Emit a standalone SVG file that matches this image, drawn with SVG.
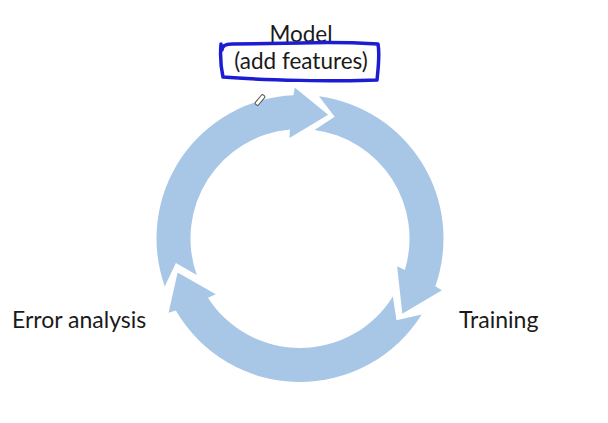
<svg xmlns="http://www.w3.org/2000/svg" width="608" height="423" viewBox="0 0 608 423">
  <style>
    .seg { fill: #a8c7e7; stroke: none; }
    .lbl { font-family: Lato, "Liberation Sans", sans-serif; font-size: 22.5px; fill: #1a1a1a; }
    .hand { fill: none; stroke: #1c1cd0; stroke-width: 3.5; stroke-linejoin: round; stroke-linecap: round; }
  </style>
  <rect width="608" height="423" fill="#ffffff"/>
  <g id="connectors">
    <path id="arrow-error-to-model" class="seg" d="M164.73,286.40 A143.5,143.5 0 0 1 293.49,95.15 L294.73,87.59 L328.14,114.66 L289.44,138.05 L289.89,129.47 A109.5,109.5 0 0 0 196.78,275.05 L175.91,263.07 Z"/>
    <path id="arrow-model-to-training" class="seg" d="M318.98,96.26 A143.5,143.5 0 0 1 435.35,286.16 L441.89,290.15 L402.35,313.69 L397.09,266.34 L404.88,269.97 A109.5,109.5 0 0 0 314.48,129.96 L334.66,116.84 Z"/>
    <path id="arrow-training-to-error" class="seg" d="M421.70,314.54 A143.5,143.5 0 0 1 175.85,310.47 L168.58,312.86 L177.62,272.44 L215.78,294.25 L207.96,297.82 A109.5,109.5 0 0 0 392.86,296.53 L396.49,320.30 Z"/>
  </g>
  <g id="node-model">
    <text class="lbl" x="301" y="42" text-anchor="middle">Model</text>
    <text class="lbl" x="301" y="69" text-anchor="middle">(add features)</text>
    <path class="hand" d="M222,50 C222,46 225,44 232,44 L300,43 C330,42 360,43 378,44 C380,55 378,70 377,80 C340,82 260,80 223,77 C221,68 220,56 221,44"/>
  </g>
  <g id="node-training">
    <text class="lbl" x="459" y="328" style="font-size:23px">Training</text>
  </g>
  <g id="node-error-analysis">
    <text class="lbl" x="12" y="328" style="font-size:23px">Error analysis</text>
  </g>
  <g id="cursor">
    <rect x="-6" y="-2" width="12" height="4" rx="1.5" transform="translate(260,100) rotate(-50)" fill="#ffffff" stroke="#555555" stroke-width="1"/>
  </g>
</svg>
